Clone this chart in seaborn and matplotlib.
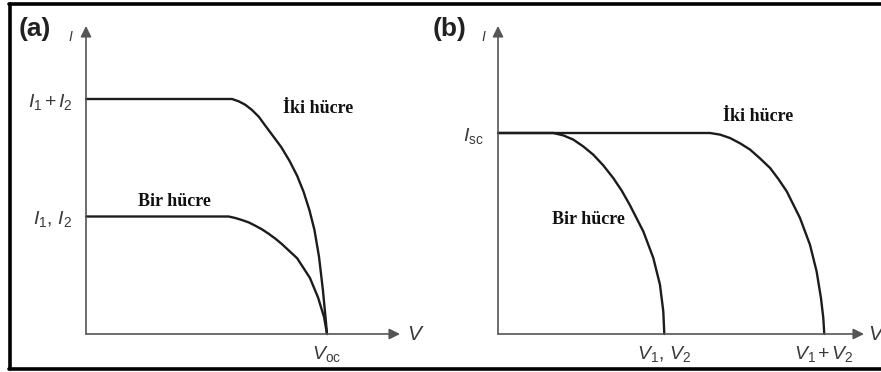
import matplotlib
matplotlib.use("Agg")
import matplotlib.pyplot as plt
from matplotlib.lines import Line2D
import seaborn as sns

# ---- (a) parallel connection: V normalised to Voc, I normalised to one cell's current
a_iki_v = [0, 0.606, 0.634, 0.661, 0.689, 0.717, 0.744, 0.776, 0.810, 0.844, 0.876,
           0.903, 0.927, 0.948, 0.967, 0.983, 0.996, 1.0]
a_iki_i = [2, 2, 1.980, 1.951, 1.906, 1.849, 1.773, 1.685, 1.591, 1.475, 1.347,
           1.209, 1.055, 0.885, 0.655, 0.374, 0.094, 0]
a_bir_v = [0, 0.592, 0.620, 0.647, 0.675, 0.702, 0.730, 0.758, 0.786, 0.813,
           0.876, 0.929, 0.963, 0.988, 1.0]
a_bir_i = [1, 1, 0.987, 0.970, 0.950, 0.922, 0.891, 0.853, 0.811, 0.765,
           0.645, 0.478, 0.310, 0.142, 0]
a_yticks = [1, 2]
a_yticklabels = [r"$I_1,\,I_2$", r"$I_1\,{+}\,I_2$"]
a_xticks = [1.0]
a_xticklabels = [r"$V_{\mathrm{oc}}$"]

# ---- (b) series connection: V normalised to one cell's voltage, I normalised to Isc
b_bir_v = [0, 0.333, 0.393, 0.453, 0.513, 0.573, 0.633, 0.693, 0.744, 0.792, 0.874,
           0.934, 0.974, 0.994, 1.0]
b_bir_i = [1, 1, 0.988, 0.967, 0.933, 0.892, 0.839, 0.776, 0.713, 0.643, 0.510,
           0.378, 0.245, 0.112, 0]
b_iki_v = [0, 1.275, 1.335, 1.395, 1.455, 1.515, 1.575, 1.636, 1.686, 1.736, 1.816,
           1.876, 1.916, 1.942, 1.956, 1.962]
b_iki_i = [1, 1, 0.992, 0.975, 0.949, 0.918, 0.874, 0.826, 0.771, 0.710, 0.577,
           0.444, 0.311, 0.179, 0.080, 0]
b_yticks = [1]
b_yticklabels = [r"$I_{\mathrm{sc}}$"]
b_xticks = [1.0, 1.962]
b_xticklabels = [r"$V_1,\,V_2$", r"$V_1\,{+}\,V_2$"]

sns.set_style("white")
plt.rcParams["font.family"] = ["Liberation Sans", "DejaVu Sans"]
plt.rcParams["mathtext.fontset"] = "custom"
plt.rcParams["mathtext.it"] = "Liberation Sans:italic"
plt.rcParams["mathtext.rm"] = "Liberation Sans"
plt.rcParams["mathtext.bf"] = "Liberation Sans:bold"

W, H = 881, 372
fig = plt.figure(figsize=(W / 100, H / 100), dpi=100)
fig.patch.set_facecolor("white")

AXIS_C = "#555555"
TEXT_C = "#3a3a3a"
CURVE_C = "#1c1c1c"


def px_axes(left, right, top, bottom):
    """Axes placed by pixel edges (y measured from the top)."""
    return fig.add_axes([left / W, (H - bottom) / H, (right - left) / W, (bottom - top) / H])


def style_axes(ax, xmax, ymax, xticks, xlabels, yticks, ylabels):
    ax.set_xlim(0, xmax)
    ax.set_ylim(0, ymax)
    for s in ax.spines.values():
        s.set_visible(False)
    ax.set_facecolor("none")
    ax.annotate("", xy=(0, ymax), xytext=(0, 0), annotation_clip=False,
                arrowprops=dict(arrowstyle="-|>", color=AXIS_C, lw=1.2,
                                mutation_scale=16, shrinkA=0, shrinkB=0))
    ax.annotate("", xy=(xmax, 0), xytext=(0, 0), annotation_clip=False,
                arrowprops=dict(arrowstyle="-|>", color=AXIS_C, lw=1.2,
                                mutation_scale=16, shrinkA=0, shrinkB=0))
    ax.set_xticks(xticks)
    ax.set_xticklabels(xlabels, fontsize=14, color=TEXT_C)
    ax.set_yticks(yticks)
    ax.set_yticklabels(ylabels, fontsize=14, color=TEXT_C)
    ax.tick_params(axis="both", length=0)
    ax.tick_params(axis="x", pad=7)
    ax.tick_params(axis="y", pad=10)
    ax.set_xlabel("")
    ax.set_ylabel("")
    ax.grid(False)


def curve(ax, v, i):
    sns.lineplot(x=v, y=i, ax=ax, sort=False, estimator=None,
                 color=CURVE_C, lw=1.7, clip_on=False,
                 solid_joinstyle="round", solid_capstyle="round")


label_kw = dict(fontsize=13, fontweight="bold", color="#111111",
                family=["Liberation Serif", "DejaVu Serif"], ha="center", va="center")

# Panel (a)
ax_a = px_axes(86, 400, 26, 334)
curve(ax_a, a_iki_v, a_iki_i)
curve(ax_a, a_bir_v, a_bir_i)
style_axes(ax_a, (400 - 86) / 241, (334 - 26) / 117.5,
           a_xticks, a_xticklabels, a_yticks, a_yticklabels)
ax_a.text(0.963, 1.915, "İki hücre", transform=ax_a.transData, **label_kw)
ax_a.text(0.365, 1.13, "Bir hücre", transform=ax_a.transData, **label_kw)

# Panel (b)
ax_b = px_axes(498, 864, 26, 334)
curve(ax_b, b_bir_v, b_bir_i)
curve(ax_b, b_iki_v, b_iki_i)
style_axes(ax_b, (864 - 498) / 166.3, (334 - 26) / 201,
           b_xticks, b_xticklabels, b_yticks, b_yticklabels)
ax_b.text(1.563, 1.08, "İki hücre", transform=ax_b.transData, **label_kw)
ax_b.text(0.541, 0.572, "Bir hücre", transform=ax_b.transData, **label_kw)

# Panel letters and axis names
fig.text(35 / W, 1 - 29 / H, "(a)", fontsize=19, fontweight="bold", color="#222222",
         ha="center", va="center")
fig.text(450 / W, 1 - 29 / H, "(b)", fontsize=19, fontweight="bold", color="#222222",
         ha="center", va="center")
fig.text(70 / W, 1 - 37 / H, "I", fontsize=10, style="italic", color=TEXT_C,
         ha="center", va="center")
fig.text(483 / W, 1 - 37 / H, "I", fontsize=10, style="italic", color=TEXT_C,
         ha="center", va="center")
fig.text(414 / W, 1 - 334 / H, "V", fontsize=15, style="italic", color=TEXT_C,
         ha="center", va="center")
fig.text(875 / W, 1 - 334 / H, "V", fontsize=15, style="italic", color=TEXT_C,
         ha="center", va="center")

# Frame around the figure (left, top, bottom edges)
frame_kw = dict(color="black", lw=2.6, transform=fig.transFigure)
fig.add_artist(Line2D([10 / W, 10 / W], [1 - 4 / H, 1 - 369 / H], **frame_kw))
fig.add_artist(Line2D([9 / W, 1.0], [1 - 4 / H, 1 - 4 / H], **frame_kw))
fig.add_artist(Line2D([9 / W, 1.0], [1 - 369 / H, 1 - 369 / H], **frame_kw))

fig.savefig("out.png", dpi=100, facecolor="white")
